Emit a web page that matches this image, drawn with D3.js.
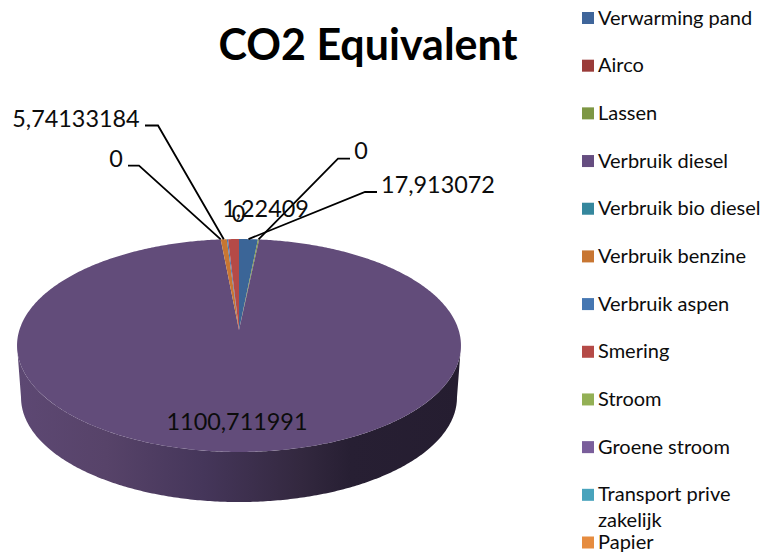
<!DOCTYPE html>
<html>
<head>
<meta charset="utf-8">
<script src="https://cdn.jsdelivr.net/npm/d3@7"></script>
<style>
  html, body { margin: 0; padding: 0; background: #fff; }
  svg { display: block; font-family: Lato, sans-serif; fill: #0c0c0c; }
  .title { font-size: 43px; font-weight: 700; fill: #000; }
  .legend-label { font-size: 20px; }
  .data-label { font-size: 23.4px; }
  .leader { fill: none; stroke: #000; stroke-width: 1.8; }
</style>
</head>
<body>
<div id="chart"></div>
<script>
const categories = [
  "Verwarming pand", "Airco", "Lassen", "Verbruik diesel", "Verbruik bio diesel",
  "Verbruik benzine", "Verbruik aspen", "Smering", "Stroom", "Groene stroom",
  "Transport prive zakelijk", "Papier",
];
// slices without a readable label are estimates
const values = [17.913072, 0, 1.1, 1100.711991, 0, 5.74133184, 1.22409, 10.3, 0, 0, 0, 0];
const faceColors = [
  "#3b6597", "#a0403d", "#7d9744", "#624c7a", "#35879d", "#c87632",
  "#4577b2", "#b54a47", "#93b055", "#7a5e9b", "#48a3bc", "#e68c3f",
];
const legendColors = [
  "#3f659a", "#9a3b39", "#7d9744", "#654d80", "#35879d", "#c87632",
  "#4577b2", "#b54a47", "#93b055", "#7a5e9b", "#48a3bc", "#e68c3f",
];
const wallStops = [
  [0, "#5d4873"], [0.2, "#574369"], [0.42, "#45365a"],
  [0.64, "#33283f"], [0.75, "#271f33"], [1, "#251d30"],
];
// which slice each data label belongs to
const labelSlices = [2, 0, 4, 5, 6, 7, 3];
const labelTexts = ["0", "17,913072", "0", "5,74133184", "1,22409", "0", "1100,711991"];

const width = 764;
const height = 553;

const labelLayout = [
  { x: 361, y: 150, leader: [[350, 158.7], [338, 158.7]] },
  { x: 438, y: 184, leader: [[377, 192], [365, 192]] },
  { x: 116, y: 158, leader: [[128, 165.7], [139, 165.7]] },
  { x: 76, y: 118, leader: [[145, 125.5], [158, 125.5]] },
  { x: 265.5, y: 208 },
  { x: 238.5, y: 213 },
  { x: 237, y: 421 },
];

// perspective of the tilted disc: circle coordinates to screen, the pie centre stays at the apex
const apex = { x: 239, y: 330 };
const tilt = 0.1455;
const discA = 219.6;
const discB = 104.2;
const wallDrop = 52;
const wallShrink = 0.982;
// the rim is widest on screen at this angle, the wall only shows below it
const wallStart = Math.acos(-tilt);
const wallEnd = 2 * Math.PI - wallStart;

function project(angle, lower) {
  const u = Math.sin(angle);
  const v = Math.cos(angle);
  const w = 1 + tilt * v;
  const px = (discA * u) / w;
  const py = (discB * v) / w;
  if (!lower) return [apex.x + px, apex.y - py];
  // bottom rim: same ellipse, a bit smaller and moved down
  const midY = apex.y + 15.5;
  return [
    apex.x + px * wallShrink,
    midY + (apex.y - py - midY) * wallShrink + wallDrop,
  ];
}

function arcPoints(start, end, lower) {
  const n = Math.max(2, Math.ceil((end - start) / 0.01));
  return d3.range(n + 1).map((i) => project(start + ((end - start) * i) / n, lower));
}

const pieData = d3
  .pie()
  .sort(null)
  .startAngle(0)
  .endAngle(2 * Math.PI)
  .value((d) => d)(values);

const svg = d3
  .select("#chart")
  .append("svg")
  .attr("width", width)
  .attr("height", height)
  .attr("viewBox", [0, 0, width, height]);

const line = d3.line();

const gradient = svg
  .append("defs")
  .append("linearGradient")
  .attr("id", "wall")
  .attr("gradientUnits", "userSpaceOnUse")
  .attr("x1", 17)
  .attr("x2", 461)
  .attr("y1", 0)
  .attr("y2", 0);
gradient
  .selectAll("stop")
  .data(wallStops)
  .join("stop")
  .attr("offset", (d) => d[0])
  .attr("stop-color", (d) => d[1]);

const drawn = pieData.filter((d) => d.value > 0);

svg
  .append("g")
  .selectAll("path")
  .data(
    drawn
      .map((d) => [Math.max(d.startAngle, wallStart), Math.min(d.endAngle, wallEnd)])
      .filter((d) => d[0] < d[1])
  )
  .join("path")
  .attr("fill", "url(#wall)")
  .attr("d", (d) =>
    line([...arcPoints(d[0], d[1], false), ...arcPoints(d[0], d[1], true).reverse()]) + "Z"
  );

svg
  .append("g")
  .selectAll("path")
  .data(drawn)
  .join("path")
  .attr("fill", (d) => faceColors[d.index])
  .attr("d", (d) =>
    line([[apex.x, apex.y], ...arcPoints(d.startAngle, d.endAngle, false)]) + "Z"
  );

svg
  .append("text")
  .attr("class", "title")
  .attr("x", 368)
  .attr("y", 60)
  .attr("text-anchor", "middle")
  .text("CO2 Equivalent");

// leaders go to the middle of the slice on the rim
svg
  .append("g")
  .selectAll("path")
  .data(labelLayout.filter((d) => d.leader))
  .join("path")
  .attr("class", "leader")
  .attr("d", (d) => {
    const slice = pieData[labelSlices[labelLayout.indexOf(d)]];
    const rim = project((slice.startAngle + slice.endAngle) / 2, false);
    return line([...d.leader, rim]);
  });

svg
  .append("g")
  .selectAll("text")
  .data(labelTexts)
  .join("text")
  .attr("class", "data-label")
  .attr("text-anchor", "middle")
  .attr("dominant-baseline", "central")
  .attr("x", (d, i) => labelLayout[i].x)
  .attr("y", (d, i) => labelLayout[i].y)
  .text((d) => d);

const legendY = d3
  .scaleLinear()
  .domain([0, categories.length - 1])
  .range([18, 542.5]);

const legend = svg
  .append("g")
  .selectAll("g")
  .data(categories)
  .join("g")
  .attr("transform", (d, i) => `translate(582,${legendY(i)})`);

legend
  .append("rect")
  .attr("y", -6)
  .attr("width", 12)
  .attr("height", 12)
  .attr("fill", (d, i) => legendColors[i]);

legend
  .append("text")
  .attr("class", "legend-label")
  .attr("x", 16)
  .attr("y", -1.5)
  .attr("dominant-baseline", "central")
  .each(function (d) {
    const text = d3.select(this);
    const parts = d === "Transport prive zakelijk" ? ["Transport prive", "zakelijk"] : [d];
    parts.forEach((part, i) => {
      text.append("tspan").attr("x", 16).attr("dy", i ? 26 : 0).text(part);
    });
  });
</script>
</body>
</html>
